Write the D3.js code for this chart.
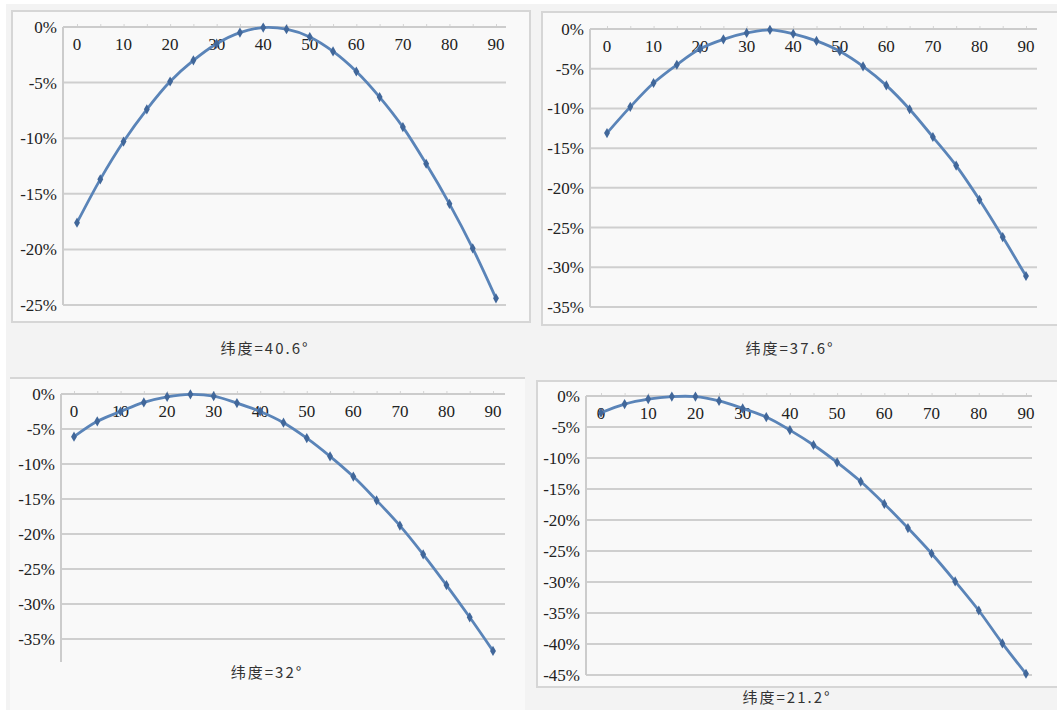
<!DOCTYPE html>
<html>
<head>
<meta charset="utf-8">
<script src="https://cdn.jsdelivr.net/npm/d3@7"></script>
<style>
  body { margin: 0; background: #ffffff; }
  svg { display: block; }
</style>
</head>
<body>
<svg id="chart" width="1057" height="710"></svg>
<script>
// angle (degrees) on the x axis
const angles = [0, 5, 10, 15, 20, 25, 30, 35, 40, 45, 50, 55, 60, 65, 70, 75, 80, 85, 90];
const xLabels = [0, 10, 20, 30, 40, 50, 60, 70, 80, 90];

// relative change (%) for each latitude
const lat406 = [-17.6, -13.7, -10.3, -7.4, -4.9, -3.0, -1.5, -0.5, -0.05, -0.2, -0.9, -2.2, -4.0, -6.3, -9.0, -12.3, -15.9, -19.9, -24.4];
const lat376 = [-13.1, -9.8, -6.8, -4.5, -2.5, -1.3, -0.5, -0.1, -0.6, -1.5, -2.8, -4.7, -7.1, -10.1, -13.6, -17.2, -21.5, -26.2, -31.1];
const lat32  = [-6.1, -3.9, -2.5, -1.2, -0.4, -0.05, -0.3, -1.3, -2.5, -4.1, -6.3, -8.9, -11.8, -15.2, -18.8, -22.9, -27.3, -31.9, -36.7];
const lat212 = [-2.7, -1.3, -0.5, -0.1, -0.1, -0.8, -2.0, -3.4, -5.5, -7.9, -10.7, -13.8, -17.4, -21.3, -25.4, -29.9, -34.6, -39.9, -44.8];

const ticks25 = [0, -5, -10, -15, -20, -25];
const ticks35 = [0, -5, -10, -15, -20, -25, -30, -35];
const ticks45 = [0, -5, -10, -15, -20, -25, -30, -35, -40, -45];

const captions = ['纬度=40.6°', '纬度=37.6°', '纬度=32°', '纬度=21.2°'];

const serif = 'Liberation Serif, DejaVu Serif, serif';

const svg = d3.select('#chart');

// page background
svg.append('rect').attr('width', 1057).attr('height', 710).attr('fill', '#ffffff');
svg.append('rect').attr('x', 6).attr('y', 4).attr('width', 1051).attr('height', 706).attr('fill', '#f3f3f3');

const panels = [
  {data: lat406, ticks: ticks25, caption: captions[0], frame: [12, 11, 518, 311], sides: 'all',
   axisX: 63, y0: 27, y1: 305, x0: 77, x1: 496, gridEnd: 506, axisEnd: 305, capX: 265, capY: 354},
  {data: lat376, ticks: ticks35, caption: captions[1], frame: [542, 12, 520, 313], sides: 'all',
   axisX: 590, y0: 29, y1: 307, x0: 607, x1: 1026, gridEnd: 1037, axisEnd: 307, capX: 790, capY: 354},
  {data: lat32, ticks: ticks35, caption: captions[2], frame: [10, 378, 515, 340], sides: 'top',
   axisX: 61, y0: 394, y1: 639, x0: 74, x1: 493, gridEnd: 505, axisEnd: 662, capX: 267, capY: 678},
  {data: lat212, ticks: ticks45, caption: captions[3], frame: [537, 381, 525, 306], sides: 'all',
   axisX: 586, y0: 396, y1: 675, x0: 601, x1: 1026, gridEnd: 1032, axisEnd: 675, capX: 787, capY: 703}
];

panels.forEach(function(p) {
  var g = svg.append('g');
  var f = p.frame;

  // panel frame
  g.append('rect')
    .attr('x', f[0]).attr('y', f[1])
    .attr('width', f[2]).attr('height', f[3])
    .attr('fill', '#f9f9f9')
    .attr('stroke', p.sides === 'all' ? '#d6d6d6' : 'none')
    .attr('stroke-width', 2);
  if (p.sides === 'top') {
    g.append('line')
      .attr('x1', f[0]).attr('x2', f[0] + f[2])
      .attr('y1', f[1]).attr('y2', f[1])
      .attr('stroke', '#d6d6d6').attr('stroke-width', 2);
  }

  var x = d3.scaleLinear().domain([0, 90]).range([p.x0, p.x1]);
  var y = d3.scaleLinear().domain([0, d3.min(p.ticks)]).range([p.y0, p.y1]);

  // horizontal gridlines
  g.selectAll('line.grid')
    .data(p.ticks.slice(1))
    .enter()
    .append('line')
    .attr('class', 'grid')
    .attr('x1', p.axisX).attr('x2', p.gridEnd)
    .attr('y1', function(d) { return y(d); })
    .attr('y2', function(d) { return y(d); })
    .attr('stroke', '#cfcfcf')
    .attr('stroke-width', 2);

  // vertical value axis
  g.append('line')
    .attr('x1', p.axisX).attr('x2', p.axisX)
    .attr('y1', p.y0).attr('y2', p.axisEnd)
    .attr('stroke', '#cccccc').attr('stroke-width', 2);

  // y tick labels
  g.selectAll('text.ytick')
    .data(p.ticks)
    .enter()
    .append('text')
    .attr('class', 'ytick')
    .attr('x', p.axisX - 6)
    .attr('y', function(d) { return y(d); })
    .attr('dy', '0.35em')
    .attr('text-anchor', 'end')
    .attr('font-family', serif)
    .attr('font-size', 17)
    .attr('fill', '#222')
    .text(function(d) { return d + '%'; });

  // top category axis (0% line) with small ticks
  var xAxis = d3.axisTop(x)
    .tickValues(angles)
    .tickSize(3)
    .tickFormat('');
  var ax = g.append('g')
    .attr('transform', 'translate(0,' + p.y0 + ')')
    .call(xAxis);
  ax.select('.domain').remove();
  ax.append('line')
    .attr('x1', p.axisX).attr('x2', p.gridEnd)
    .attr('stroke', '#cccccc').attr('stroke-width', 2);
  ax.selectAll('.tick line').attr('stroke', '#d4d4d4');

  // x labels just below the 0% line
  g.selectAll('text.xtick')
    .data(xLabels)
    .enter()
    .append('text')
    .attr('class', 'xtick')
    .attr('x', function(d) { return x(d); })
    .attr('y', p.y0 + 17)
    .attr('dy', '0.35em')
    .attr('text-anchor', 'middle')
    .attr('font-family', serif)
    .attr('font-size', 17)
    .attr('fill', '#222')
    .text(function(d) { return d; });

  // smoothed series line
  var line = d3.line()
    .x(function(d, i) { return x(angles[i]); })
    .y(function(d) { return y(d); })
    .curve(d3.curveCatmullRom);

  g.append('path')
    .datum(p.data)
    .attr('d', line)
    .attr('fill', 'none')
    .attr('stroke', '#5a84b8')
    .attr('stroke-width', 2.8);

  // diamond markers
  g.selectAll('path.marker')
    .data(p.data)
    .enter()
    .append('path')
    .attr('class', 'marker')
    .attr('d', d3.symbol().type(d3.symbolDiamond).size(30))
    .attr('transform', function(d, i) { return 'translate(' + x(angles[i]) + ',' + y(d) + ')'; })
    .attr('fill', '#41679a');

  // caption below the panel
  g.append('text')
    .attr('x', p.capX)
    .attr('y', p.capY)
    .attr('text-anchor', 'middle')
    .attr('font-family', 'Noto Sans CJK SC, sans-serif')
    .attr('font-size', 15)
    .attr('letter-spacing', 2)
    .attr('fill', '#333')
    .text(p.caption);
});
</script>
</body>
</html>
